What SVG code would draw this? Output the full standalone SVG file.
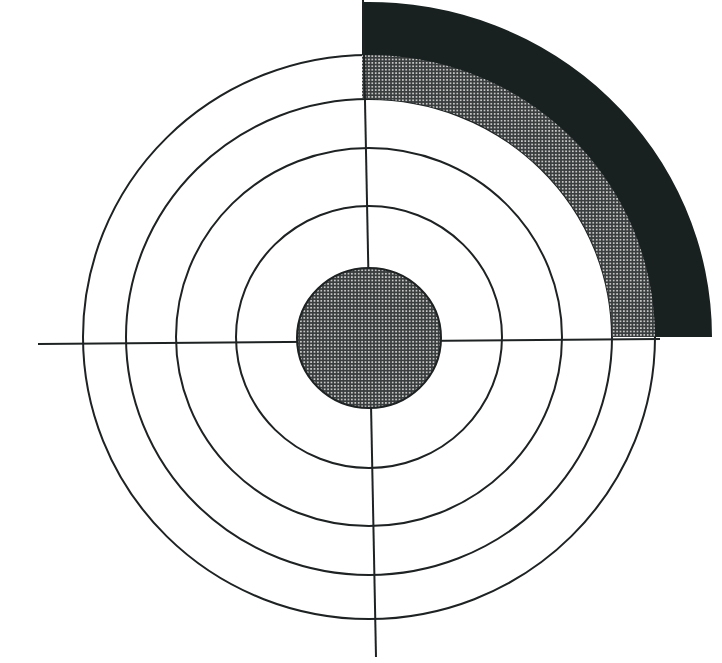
<svg xmlns="http://www.w3.org/2000/svg" width="722" height="663" viewBox="0 0 722 663">
  <defs>
    <pattern id="dots" width="3.4" height="3.4" patternUnits="userSpaceOnUse">
      <rect width="3.4" height="3.4" fill="#3a3d3d"/>
      <circle cx="1.7" cy="1.7" r="0.95" fill="#e4e4e4"/>
    </pattern>
    <style>
      .ring { fill: none; stroke: #1e2222; stroke-width: 2; }
      .axis { stroke: #1e2222; stroke-width: 2; fill: none; }
      .black { fill: #182020; }
      .dotted { fill: url(#dots); }
    </style>
  </defs>
  <rect width="722" height="663" fill="#ffffff"/>
  <g id="rings">
    <ellipse class="ring" cx="369" cy="337" rx="133" ry="131"/>
    <ellipse class="ring" cx="369" cy="337" rx="193" ry="189"/>
    <ellipse class="ring" cx="369" cy="337" rx="243" ry="238"/>
    <ellipse class="ring" cx="369" cy="337" rx="286" ry="282"/>
  </g>
  <g id="wedge">
    <path class="black" d="M362,2 A343,335 0 0 1 712,337 L655,337 A286,282 0 0 0 362,55 Z"/>
    <path class="dotted" d="M362,55 A286,282 0 0 1 655,337 L612,337 A243,238 0 0 0 362,99 Z"/>
  </g>
  <g id="axes">
    <line class="axis" x1="363" y1="0" x2="376" y2="657"/>
    <line class="axis" x1="38" y1="344" x2="660" y2="339"/>
  </g>
  <g id="bullseye">
    <ellipse cx="369" cy="338" rx="72" ry="70" fill="url(#dots)" stroke="#1e2222" stroke-width="2"/>
  </g>
</svg>
